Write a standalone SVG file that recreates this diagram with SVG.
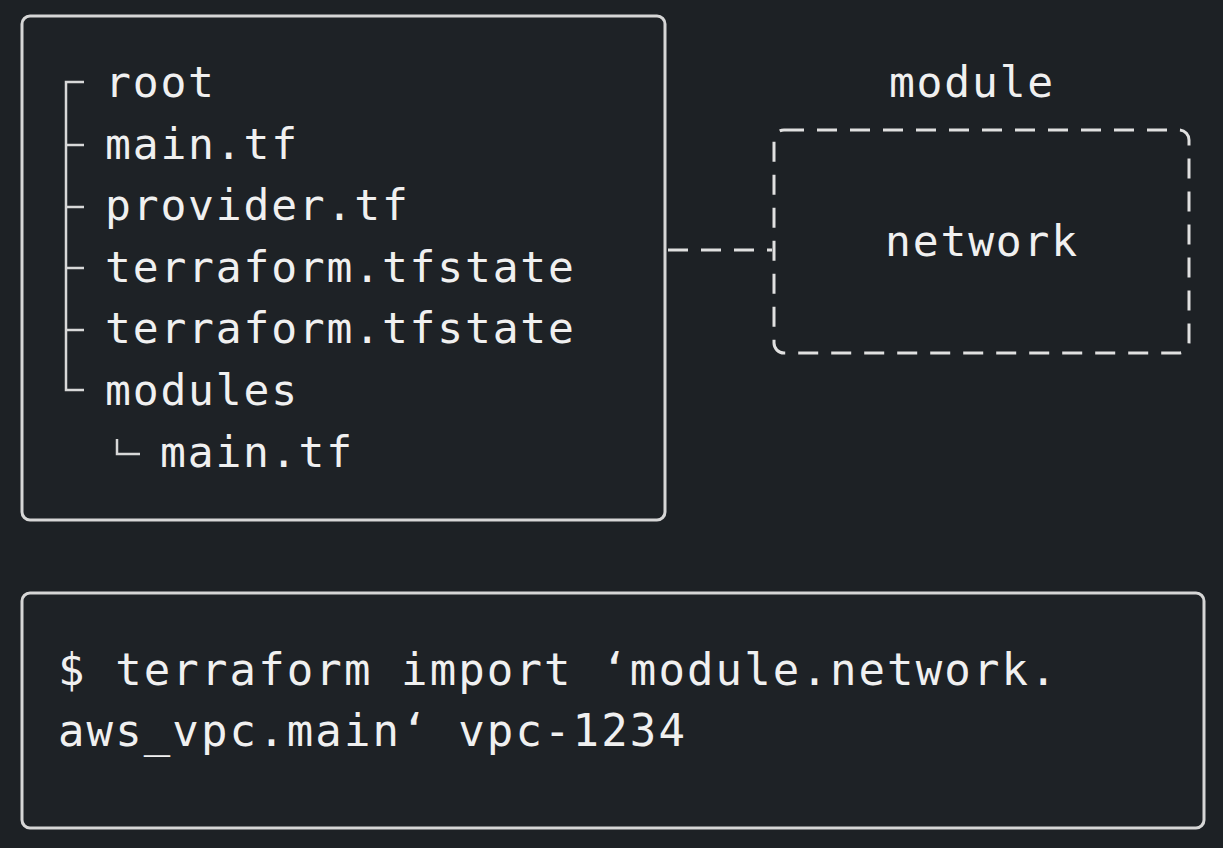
<svg xmlns="http://www.w3.org/2000/svg" width="1223" height="848" viewBox="0 0 1223 848">
<style>
.bg{fill:#1d2125}
.box{fill:#1e2226;stroke:#d6d6d6;stroke-width:3}
.dash{fill:none;stroke:#e0e0e0;stroke-width:3;stroke-dasharray:20 13}
.tree{fill:none;stroke:#d8d8d8;stroke-width:2.5}
.t{font-family:"DejaVu Sans Mono","Liberation Mono",monospace;font-size:43px;letter-spacing:1.8px;fill:#f0f0f0}
.c{font-family:"DejaVu Sans Mono","Liberation Mono",monospace;font-size:44px;letter-spacing:2.1px;fill:#f0f0f0}
</style>
<rect class="bg" x="0" y="0" width="1223" height="848"/>
<g id="tree">
<rect class="box" x="22" y="16" width="643" height="504" rx="8"/>
<path class="tree" d="M84 82H66V390H84M66 145H84M66 207H84M66 268H84M66 330H84"/>
<path class="tree" d="M117 439V454H140"/>
<text class="t" x="105" y="97">root</text>
<text class="t" x="105" y="159">main.tf</text>
<text class="t" x="105" y="220">provider.tf</text>
<text class="t" x="105" y="282">terraform.tfstate</text>
<text class="t" x="105" y="343">terraform.tfstate</text>
<text class="t" x="105" y="405">modules</text>
<text class="t" x="160" y="467">main.tf</text>
</g>
<g id="connectors">
<path class="dash" d="M668 250H772"/>
</g>
<g id="module">
<text class="t" x="972" y="97" text-anchor="middle">module</text>
<rect class="dash" x="774" y="130" width="415" height="223" rx="10"/>
<text class="t" x="982" y="256" text-anchor="middle">network</text>
</g>
<g id="command">
<rect class="box" x="22" y="593" width="1182" height="235" rx="8"/>
<text class="c" x="58" y="685">$ terraform import ‘module.network.</text>
<text class="c" x="58" y="746">aws_vpc.main‘ vpc-1234</text>
</g>
</svg>
